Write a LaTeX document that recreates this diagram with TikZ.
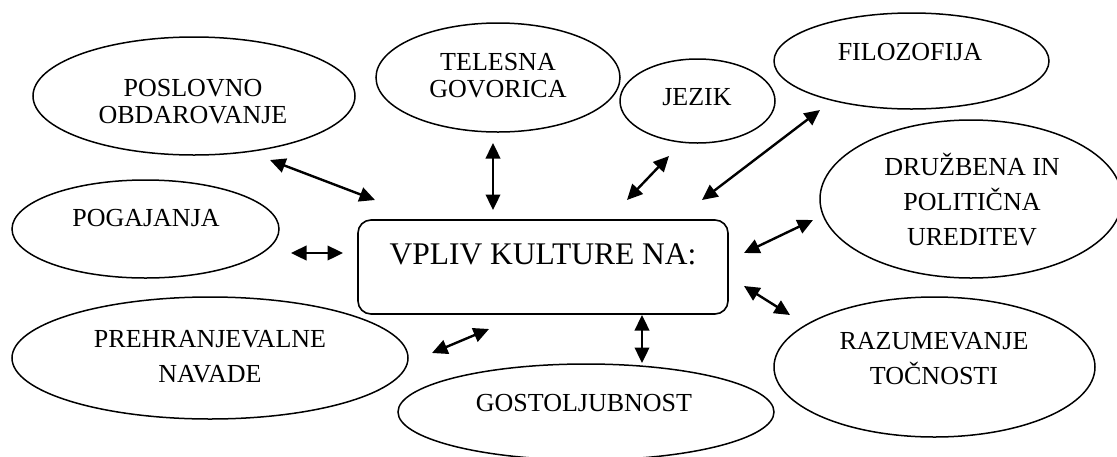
\documentclass[tikz,border=0pt]{standalone}
\usepackage{fontspec}
\setmainfont{Liberation Serif}
\usetikzlibrary{arrows.meta,shapes.geometric}

\begin{document}
\begin{tikzpicture}[x=1pt,y=-1pt,
  bubble/.style={draw, line width=1.5pt, ellipse, inner sep=0pt},
  hub/.style={draw, line width=1.6pt, rectangle, rounded corners=13pt, inner sep=0pt},
  lbl/.style={align=center, inner sep=0pt, font=\fontsize{26}{27}\selectfont},
  lblwide/.style={align=center, inner sep=0pt, font=\fontsize{26}{35}\selectfont},
  hublbl/.style={inner sep=0pt, font=\fontsize{31.5}{34}\selectfont},
  link/.style={{Triangle[length=15.5pt,width=14.5pt]}-{Triangle[length=15.5pt,width=14.5pt]}, line width=2.4pt}]
\useasboundingbox (0,0) rectangle (1117,456);
\clip (0,0) rectangle (1117,456);

% central box
\node[hub, minimum width=370pt, minimum height=94pt] (hub) at (543,267) {};
\node[hublbl] (hub-t) at (543,254) {VPLIV KULTURE NA:};

% surrounding topics
\node[bubble, minimum width=322pt, minimum height=118pt] (posl) at (194,96) {};
\node[lbl] (posl-t) at (193,101.5) {POSLOVNO\\OBDAROVANJE};

\node[bubble, minimum width=244pt, minimum height=109pt] (tel) at (498,77.5) {};
\node[lbl] (tel-t) at (498,76) {TELESNA\\GOVORICA};

\node[bubble, minimum width=155pt, minimum height=84pt] (jez) at (697.5,101) {};
\node[lbl] (jez-t) at (697,97) {JEZIK};

\node[bubble, minimum width=275pt, minimum height=96pt] (filo) at (911.5,61) {};
\node[lbl] (filo-t) at (910,52) {FILOZOFIJA};

\node[bubble, minimum width=302pt, minimum height=158pt] (druz) at (971,199) {};
\node[lblwide] (druz-t) at (972,199.5) {DRUŽBENA IN\\POLITIČNA\\UREDITEV};

\node[bubble, minimum width=267pt, minimum height=98pt] (pog) at (145.5,229) {};
\node[lbl] (pog-t) at (146,218) {POGAJANJA};

\node[bubble, minimum width=396pt, minimum height=122pt] (preh) at (210,358) {};
\node[lblwide] (preh-t) at (210,356.5) {PREHRANJEVALNE\\NAVADE};

\node[bubble, minimum width=376pt, minimum height=96pt] (gost) at (586,412) {};
\node[lbl] (gost-t) at (584,403) {GOSTOLJUBNOST};

\node[bubble, minimum width=321pt, minimum height=140pt] (razu) at (934.5,367) {};
\node[lblwide] (razu-t) at (934,358.5) {RAZUMEVANJE\\TOČNOSTI};

% arrow end points
\coordinate (posl-a) at (270,160);  \coordinate (posl-b) at (375,200);
\coordinate (tel-a)  at (493,143);  \coordinate (tel-b)  at (493,210);
\coordinate (jez-a)  at (669,156);  \coordinate (jez-b)  at (627,200);
\coordinate (filo-a) at (820,110);  \coordinate (filo-b) at (702,200);
\coordinate (druz-a) at (813,220);  \coordinate (druz-b) at (744,253);
\coordinate (pog-a)  at (291,253);  \coordinate (pog-b)  at (343,253);
\coordinate (razu-a) at (790,315);  \coordinate (razu-b) at (744,286);
\coordinate (gost-a) at (642,363);  \coordinate (gost-b) at (642,315);
\coordinate (preh-a) at (432,353);  \coordinate (preh-b) at (489,329);

\draw[link] (posl-a) -- (posl-b);
\draw[link] (tel-a) -- (tel-b);
\draw[link] (jez-a) -- (jez-b);
\draw[link] (filo-a) -- (filo-b);
\draw[link] (druz-a) -- (druz-b);
\draw[link] (pog-a) -- (pog-b);
\draw[link] (razu-a) -- (razu-b);
\draw[link] (gost-a) -- (gost-b);
\draw[link] (preh-a) -- (preh-b);
\end{tikzpicture}
\end{document}
